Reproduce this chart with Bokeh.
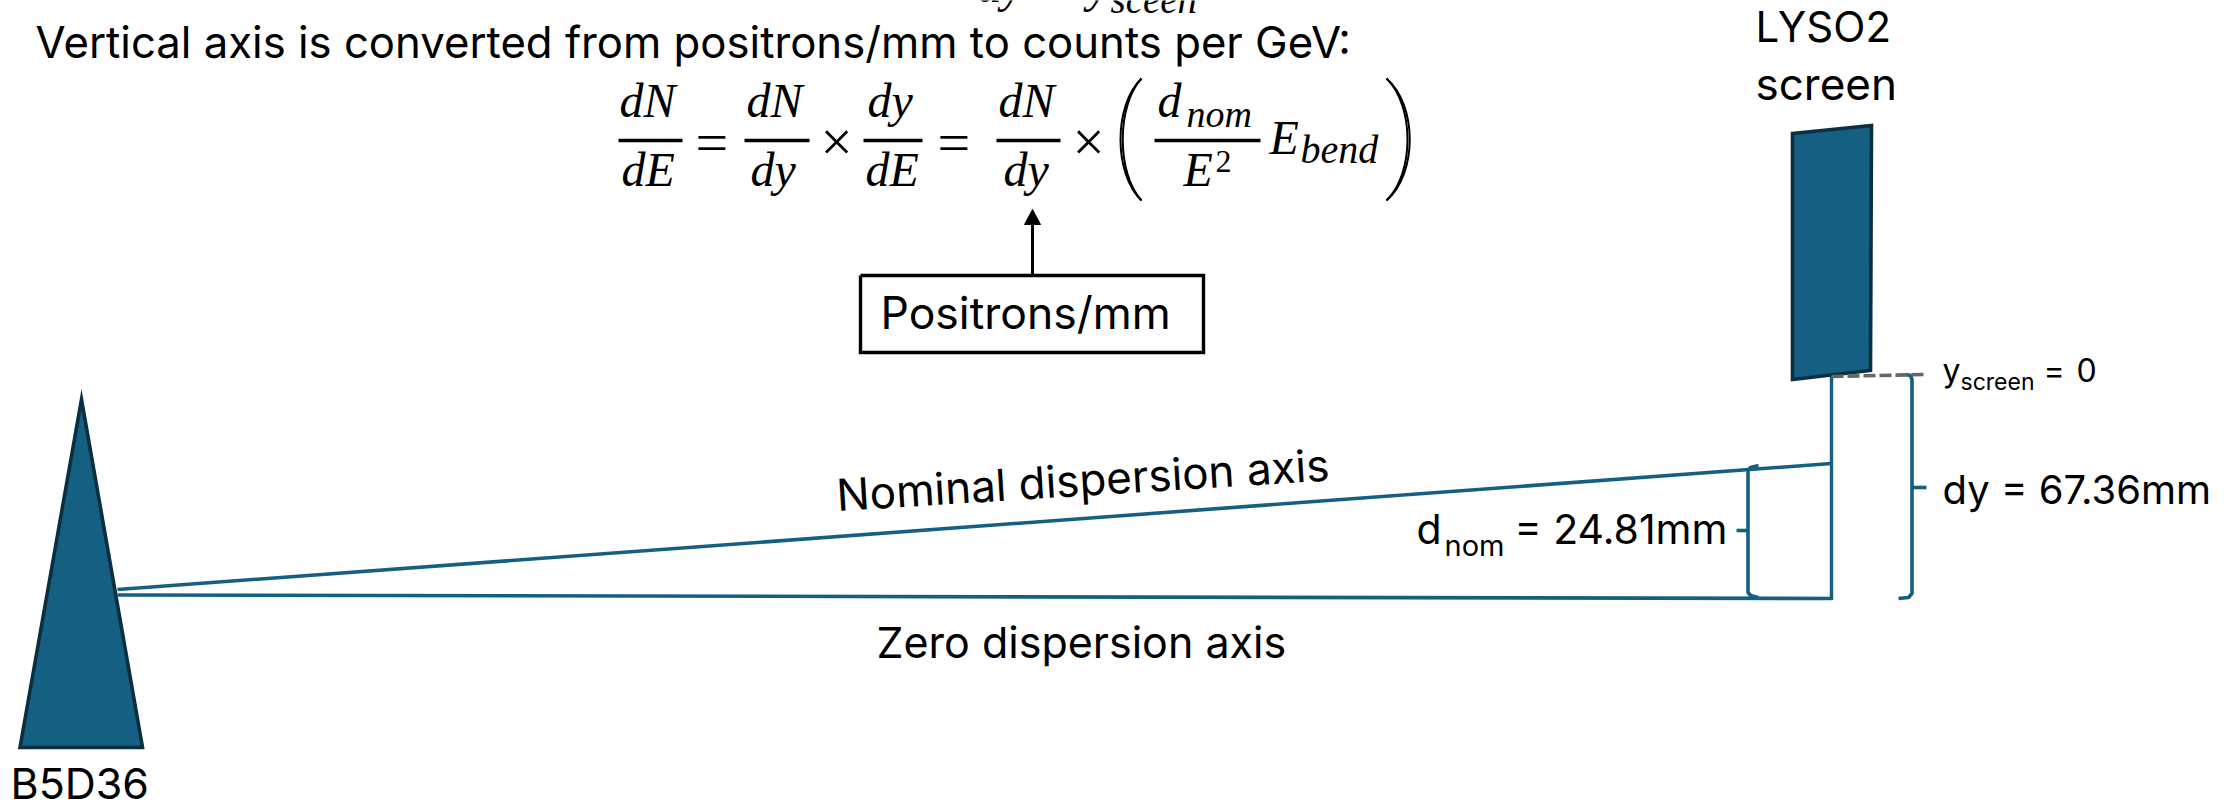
from bokeh.plotting import figure
from bokeh.models import Range1d, ColumnDataSource
from bokeh.embed import file_html
from bokeh.resources import INLINE
from bokeh.core.properties import value

# --- diagram geometry (page pixels) ---
prism_x = [19.5, 81, 142]
prism_y = [747, 399, 747]
screen_x = [1792, 1871, 1870, 1792]
screen_y = [133, 125, 370, 379]

nominal_x = [117, 1831]
nominal_y = [589, 463]
zero_x = [117, 1831]
zero_y = [594.5, 598]
vertical_x = [1831, 1831]
vertical_y = [376, 599.5]
dash_x = [1831, 1923]
dash_y = [376, 374]

brace1_x = [1758, 1750, 1747.5, 1747.5, 1750, 1758]
brace1_y = [465, 467, 470, 592, 595, 597]
brace1_nib_x = [1736, 1747]
brace1_nib_y = [530, 530]
brace2_x = [1905, 1910, 1911.5, 1911.5, 1908, 1898]
brace2_y = [374, 375, 379, 593, 597, 598]
brace2_nib_x = [1912, 1926]
brace2_nib_y = [487, 487]

frac_x0 = [618, 744, 863, 996, 1154]
frac_x1 = [682, 809, 922, 1060, 1260]
frac_y = [140, 140, 140, 140, 140]

box_left, box_right, box_top, box_bottom = 860, 1203, 275, 352
arrow_x = [1032, 1032]
arrow_y = [275, 222]
arrow_head_x = [1024, 1032, 1040]
arrow_head_y = [224, 209, 224]

# parentheses: (start x, start y, control x0, control y0, control x1, control y1, end x, end y)
paren_x0 = [1141, 1141, 1386, 1386]
paren_y0 = [78, 78, 78, 78]
paren_cx = [1116, 1113, 1414, 1417]
paren_cy0 = [105, 105, 105, 105]
paren_cy1 = [173, 173, 173, 173]
paren_y1 = [200, 200, 200, 200]

BLUE = "#156082"
DARK = "#0A2F41"
SANS = "Inter"
SERIF = "Liberation Serif"
BASELINE_K = 0.35

# (text, x, baseline y, size px)
sans_labels = [
    ("Vertical axis is converted from positrons/mm to counts per GeV:", 35, 57, 43.7),
    ("Positrons/mm", 880, 328, 44.5),
    ("LYSO2", 1755, 41, 42),
    ("screen", 1755, 99, 44),
    ("B5D36", 10, 798, 43),
    ("Zero dispersion axis", 876, 657, 43),
    ("d", 1416, 543, 41),
    ("nom", 1444, 555, 29),
    ("= 24.81mm", 1514, 543, 41),
    ("dy = 67.36mm", 1942, 503, 40),
    ("y", 1942, 381, 32),
    ("screen", 1960, 390, 23),
    ("=", 2043, 381, 32),
    ("0", 2076, 381, 32),
]
rot_label = ["Nominal dispersion axis"]
rot_x = [836]
rot_y = [510]
rot_angle = [0.062]
rot_size = 44

math_labels = [
    ("dN", 619, 117, 48),
    ("dE", 621, 186, 48),
    ("dN", 746, 117, 48),
    ("dy", 750, 186, 48),
    ("dy", 867, 117, 48),
    ("dE", 865, 186, 48),
    ("dN", 998, 117, 48),
    ("dy", 1003, 186, 48),
    ("d", 1157, 117, 48),
    ("nom", 1186, 127, 38),
    ("E", 1183, 186, 48),
    ("E", 1269, 154, 48),
    ("bend", 1300, 163, 40),
    ("dy", 977, 2, 48),
    ("y", 1087, 2, 48),
    ("sceen", 1110, 13, 39),
]
math_upright = [
    ("=", 695, 162, 58),
    ("×", 820, 161, 57),
    ("=", 937, 162, 58),
    ("×", 1072, 161, 57),
    ("2", 1215, 172, 32),
    ("+", 1043, -4, 44),
]

p = figure(width=2240, height=802, output_backend="svg", toolbar_location=None,
           x_range=Range1d(0, 2240), y_range=Range1d(802, 0),
           min_border=0, outline_line_color=None, background_fill_color="white",
           border_fill_color="white")
p.axis.visible = False
p.grid.visible = False

p.patch(prism_x, prism_y, fill_color=BLUE, line_color=DARK, line_width=3.6, line_join="miter")
p.line(nominal_x, nominal_y, line_color=BLUE, line_width=3.6)
p.line(zero_x, zero_y, line_color=BLUE, line_width=3.6)
p.line(vertical_x, vertical_y, line_color=BLUE, line_width=3.4)
p.patch(screen_x, screen_y, fill_color=BLUE, line_color=DARK, line_width=3.6, line_join="miter")
p.line(brace1_x, brace1_y, line_color=BLUE, line_width=3.6)
p.line(brace1_nib_x, brace1_nib_y, line_color=BLUE, line_width=3.6)
p.line(brace2_x, brace2_y, line_color=BLUE, line_width=3.6)
p.line(brace2_nib_x, brace2_nib_y, line_color=BLUE, line_width=3.6)
p.line(dash_x, dash_y, line_color="#666666", line_width=3.6, line_dash="12 4")

p.segment(frac_x0, frac_y, frac_x1, frac_y, line_color="black", line_width=3.4)
p.bezier(paren_x0, paren_y0, paren_x0, paren_y1,
         paren_cx, paren_cy0, paren_cx, paren_cy1, line_color="black", line_width=2)
p.line([box_left, box_right, box_right, box_left, box_left],
       [box_top, box_top, box_bottom, box_bottom, box_top],
       line_color="black", line_width=3.4, line_join="miter")
p.line(arrow_x, arrow_y, line_color="black", line_width=3)
p.patch(arrow_head_x, arrow_head_y, fill_color="black", line_color="black", line_width=1)


def put(rows, font, style):
    t, x, y, s = zip(*rows)
    src = ColumnDataSource(dict(t=list(t), x=list(x),
                                y=[a - BASELINE_K * b for a, b in zip(y, s)],
                                s=[f"{v}px" for v in s]))
    p.text("x", "y", text="t", source=src, text_font=value(font), text_font_style=style,
           text_font_size="s", text_color="black", text_align="left",
           text_baseline="alphabetic")


put(sans_labels, SANS, "normal")
put(math_labels, SERIF, "italic")
put(math_upright, SERIF, "normal")

p.text(rot_x, [v - BASELINE_K * rot_size for v in rot_y], text=rot_label, angle=rot_angle,
       text_font=value(SANS), text_font_size=value(f"{rot_size}px"), text_color="black",
       text_align="left", text_baseline="alphabetic")

open("out.html", "w").write(file_html(p, INLINE))
